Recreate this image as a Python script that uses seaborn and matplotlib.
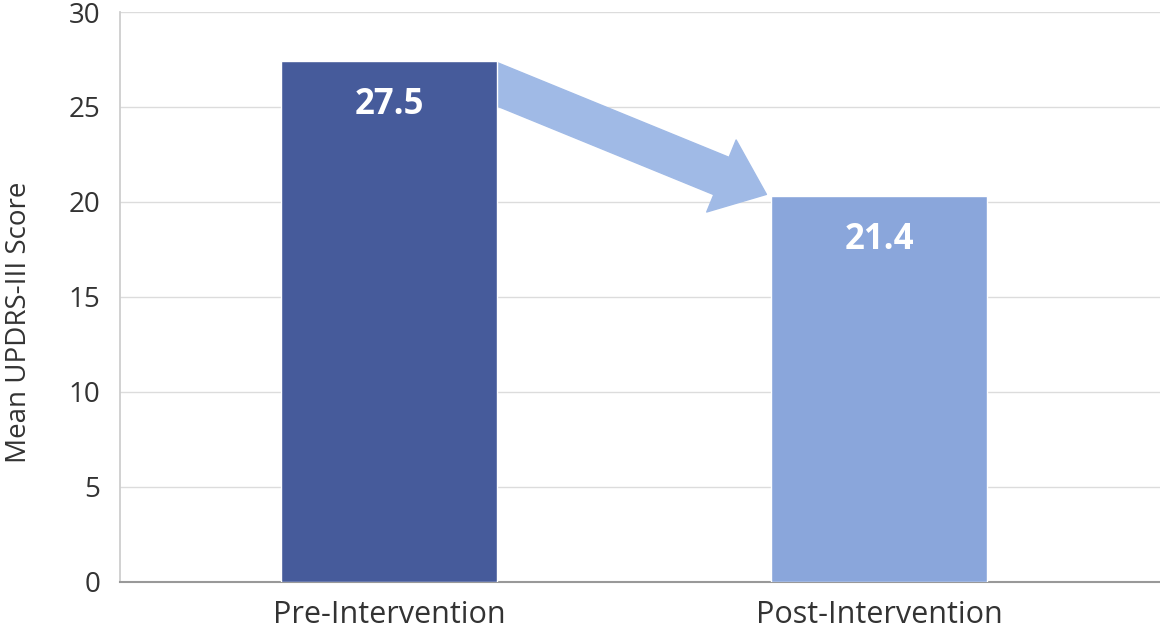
import matplotlib
matplotlib.use('Agg')
import matplotlib.pyplot as plt
import seaborn as sns
import pandas as pd
from matplotlib.patches import Rectangle

# Dados
grupos = ['Pre-Intervention', 'Post-Intervention']
valores = [27.4, 20.3]
rotulos = ['27.5', '21.4']
cores = ['#465b9b', '#8aa6db']
y_ticks = [0, 5, 10, 15, 20, 25, 30]

df = pd.DataFrame({'grupo': grupos, 'valor': valores})

sns.set_theme(style='white')
plt.rcParams['font.family'] = ['Open Sans', 'DejaVu Sans']

fig = plt.figure(figsize=(11.6, 6.35), dpi=100)
ax = fig.add_axes([0.1034, 0.0835, 0.8966, 0.8976])

largura = 0.44
sns.barplot(data=df, x='grupo', y='valor', hue='grupo', palette=cores,
            width=largura, saturation=1, legend=False, ax=ax, zorder=3)

ax.set_ylim(0, 30)
ax.set_xlim(-0.549, 1.573)
ax.set_yticks(y_ticks)
ax.yaxis.grid(True, color='#dcdcdc', linewidth=1)
ax.set_axisbelow(True)

# Rotulos dentro das barras
for i, (v, r) in enumerate(zip(valores, rotulos)):
    ax.text(i, v - 2.3, r, ha='center', va='center', color='white',
            fontsize=25, fontweight='bold', zorder=5)

# Seta entre as barras (atras das barras, cortada na borda da primeira)
x_ini = largura / 2
x_fim = 1 - largura / 2 - 0.01
y_ini = valores[0] - 1.2
y_fim = valores[1] + 0.1
incl = (y_fim - y_ini) / (x_fim - x_ini)
x0 = x_ini - 0.12
ann = ax.annotate('', xy=(x_fim, y_fim), xytext=(x0, y_ini + incl * (x0 - x_ini)),
                  arrowprops=dict(arrowstyle='simple,head_length=1.75,head_width=2.8,tail_width=1.45',
                                  mutation_scale=20, color='#a0bae6', shrinkA=0, shrinkB=0),
                  zorder=2)
clip = Rectangle((x_ini, 0), 2, 31, transform=ax.transData)
ann.arrow_patch.set_clip_path(clip)

ax.set_xlabel('')
ax.set_ylabel('Mean UPDRS-III Score', fontsize=20, color='#333333')
ax.yaxis.set_label_coords(-0.084, 0.456)
ax.tick_params(axis='x', labelsize=22, labelcolor='#333333', pad=13, length=0)
ax.tick_params(axis='y', labelsize=20, labelcolor='#333333', pad=14, length=0)

for lado in ['top', 'right']:
    ax.spines[lado].set_visible(False)
ax.spines['left'].set_color('#cccccc')
ax.spines['bottom'].set_color('#999999')
ax.spines['bottom'].set_linewidth(1.5)

fig.savefig('out.png', dpi=100, facecolor='white')
